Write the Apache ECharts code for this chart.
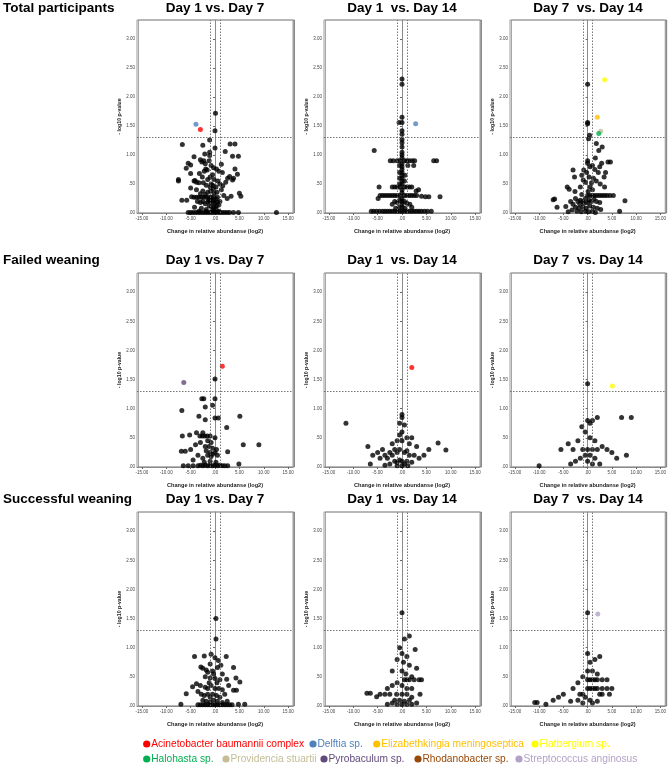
<!DOCTYPE html>
<html><head><meta charset="utf-8">
<script src="https://cdn.jsdelivr.net/npm/echarts@6/dist/echarts.min.js"></script>
<style>html,body{margin:0;padding:0;background:#fff}#c{width:669px;height:767px}</style>
</head><body><div id="c"></div>
<script>
// ---------------- data ----------------
const rowLabels = ['Total participants', 'Failed weaning', 'Successful weaning'];
const colTitles = ['Day 1 vs. Day 7', 'Day 1  vs. Day 14', 'Day 7  vs. Day 14'];
const xTicks = [-15, -10, -5, 0, 5, 10, 15];
const yTicks = [0, 0.5, 1, 1.5, 2, 2.5, 3];
const xName = 'Change in relative abundanse (log2)';
const yName = '- log10 p-value';
const species = ['Acinetobacter baumannii complex', 'Delftia sp.', 'Elizabethkingia meningoseptica', 'Flatbergium sp.',
  'Halohasta sp.', 'Providencia stuartii', 'Pyrobaculum sp.', 'Rhodanobacter sp.', 'Streptococcus anginosus'];
const speciesColors = ['#ff0000', '#4f81bd', '#ffc000', '#ffff00', '#00b050', '#c4bd97', '#604a7b', '#984807', '#b3a2c7'];
const foldThreshold = 1;       // |log2 change|
const pThreshold = 1.301;      // -log10(0.05)

// Total participants, Day 1 vs Day 7
const total_d1_d7 = [[0.1,1.72],[0,1.42],[-1.1,1.26],[-6.7,1.18],[3.1,1.19],[4.1,1.19],[-2.5,1.17],[0,1.12],[2.1,1.06],[-1.1,1.05],[-2.1,1.02],[-4.3,0.97],[3.6,0.98],[4.8,0.98],[-1.1,0.99],
[-5.5,0.86],[-5,0.83],[-5.9,0.77],[-5,0.68],[-4.3,0.55],[-3.8,0.53],[-4.1,0.56],[-7.5,0.55],[-7.5,0.58],[-3,0.92],[-2.7,0.88],[-2.3,0.9],[-2,0.85],[-1.9,0.76],[-1.6,0.74],[-2.2,0.72],[-1.2,0.9],[-0.8,0.82],[-0.3,0.78],[0.3,0.76],[0.8,0.72],[1.3,0.84],[1.5,0.7],[-0.5,0.66],[-1,0.62],[-1.5,0.58],[-2.6,0.62],[-3.2,0.68],[-0.2,0.58],[0.6,0.55],[1,0.5],[-0.8,0.5],[-1.8,0.48],[-2.4,0.52],[-3.3,0.52],[0.2,0.45],[-0.4,0.42],[1.6,0.47],[2.2,0.53],[2.6,0.6],[3,0.63],[4.1,0.76],[4.6,0.67],[3.8,0.6],[3.6,0.57],
[-6.8,0.22],[-5.8,0.22],[-4.8,0.28],[-4.3,0.27],[-3.8,0.27],[-3.3,0.27],[-2.8,0.27],[-2.3,0.27],[-1.8,0.27],[-1.3,0.27],[-0.8,0.27],[-0.3,0.27],[0.5,0.27],[-3.6,0.2],[-3,0.18],[-2.5,0.2],[-2,0.16],[-1.5,0.19],[-1,0.2],[-0.5,0.18],[0,0.17],[0.5,0.19],[1,0.2],[-1.2,0.12],[-0.7,0.11],[-0.2,0.1],[0.3,0.12],[0.8,0.14],[-2.8,0.08],[-1.8,0.06],[-0.6,0.05],[0.2,0.07],[-4.2,0.1],[-1.5,0.36],[-0.9,0.38],[-0.2,0.34],[0.4,0.36],[-2.5,0.38],[-3.8,0.4],[1.8,0.3],[2.5,0.25],[3.3,0.29],[5,0.34],[5.3,0.29],[1.3,0.4],[-5,0.43],[-1.3,0.23],[-0.8,0.24],[-0.3,0.22],[0.2,0.24],[-2,0.32],[-3,0.33],[-1,0.45],[-0.5,0.48],
[-5.5,0.01],[-5,0.01],[-4.5,0.01],[-4,0.01],[-3.5,0.01],[-3,0.01],[-2.5,0.01],[-2,0.01],[-1.5,0.01],[-1,0.01],[-0.5,0.01],[0,0.01],[0.5,0.01],[1,0.01],[1.5,0.01],[2,0.01],[2.5,0.01],[3,0.01],[3.8,0.01],[4.8,0.01],[12.6,0.01],[-3.3,0.03],[-1.8,0.03],[-0.3,0.03],[0.8,0.03]];
const total_d1_d7_marked = [['Delftia sp.',-3.9,1.53],['Acinetobacter baumannii complex',-3.0,1.44]];

// Total participants, Day 1 vs Day 14
const total_d1_d14 = [[0,2.31],[0,2.22],[0,1.65],[-0.6,1.56],[0,1.56],[0,1.42],[0,1.36],[0,1.27],[0,1.21],[0,1.14],[0,1.05],[0,1],[0,0.95],[0,0.85],[0,0.8],[0,0.75],[0,0.7],[0,0.65],[0,0.6],[0,0.55],[0,0.5],[0,0.4],[0,0.35],[0,0.25],[0,0.2],[0,0.15],[0,0.1],
[-5.7,1.08],[-2.4,0.9],[-1.8,0.9],[-1,0.9],[-0.5,0.9],[0.5,0.9],[1,0.9],[1.5,0.9],[2.1,0.9],[2.6,0.9],[6.5,0.9],[7.1,0.9],
[-0.5,0.82],[1.2,0.82],[2.4,0.82],[-0.5,0.7],[-0.5,0.6],[0.6,0.65],[-0.5,0.5],[0.5,0.55],
[-4.7,0.45],[-2,0.45],[-1.5,0.45],[-1,0.45],[-0.5,0.45],[0.5,0.45],[1,0.45],[1.5,0.45],[2,0.45],
[-4.9,0.25],[3.4,0.4],[2.9,0.38],
[-4.5,0.3],[-4,0.3],[-3.5,0.3],[-3,0.3],[-2.5,0.3],[-2,0.3],[-1.5,0.3],[-1,0.3],[-0.5,0.3],[0.5,0.3],[1,0.3],[1.5,0.3],[2,0.3],[2.5,0.3],[3,0.3],[4,0.29],[4.8,0.28],[5.5,0.28],[7.8,0.28],
[-1.5,0.2],[-1,0.18],[-0.5,0.22],[0.5,0.2],[1,0.17],[1.6,0.15],[-2,0.15],[2,0.1],[-1.3,0.08],[0.6,0.08],[-0.6,0.1],
[-6.3,0.03],[-5.8,0.03],[-5.2,0.03],[-4.6,0.03],[-4,0.03],[-3.5,0.03],[-3,0.03],[-2.5,0.03],[-2,0.03],[-1.5,0.03],[-1,0.03],[-0.5,0.03],[0,0.03],[0.5,0.03],[1,0.03],[1.5,0.03],[2,0.03],[2.5,0.03],[3,0.03],[3.5,0.03],[4,0.03],[4.6,0.03],[5.2,0.03],[6,0.03]];
const total_d1_d14_marked = [['Delftia sp.',2.8,1.54]];

// Total participants, Day 7 vs Day 14
const total_d7_d14 = [[0,2.22],[0,1.56],[0,1.54],[0.4,1.34],[0.2,1.28],[1.8,1.2],[3,1.14],[2.3,1.08],[1.6,0.95],[0,0.9],[0,0.86],[1,0.82],[2.9,0.86],[2.5,0.8],[4.2,0.88],[4.7,0.88],[-3,0.74],[-0.8,0.74],[-0.2,0.7],[-1.2,0.65],[-2.7,0.62],[3.7,0.7],[3.4,0.62],[1.8,0.55],[0.8,0.52],[-0.9,0.57],[-0.5,0.53],[-4.2,0.45],[-3.8,0.41],[-2.6,0.37],[0.1,0.37],[-1.2,0.32],[-6.8,0.24],[-7.1,0.23],[-6.3,0.1],[-4.5,0.11],[-4,0.02],[7.7,0.21],[6.6,0.03],
[0.5,0.8],[1.5,0.75],[2.2,0.7],[0.3,0.62],[1.2,0.6],[2.6,0.5],[3.5,0.45],
[0,0.3],[0.5,0.3],[1,0.3],[1.5,0.3],[2,0.3],[2.5,0.3],[3,0.3],[3.5,0.3],[4,0.3],[4.6,0.3],[5.3,0.3],
[-3.5,0.2],[-3,0.15],[-2.5,0.25],[-2,0.2],[-1.5,0.22],[-1,0.2],[-0.5,0.25],[0.3,0.22],[0.8,0.2],[1.3,0.24],[1.8,0.2],[2.5,0.18],[-2.5,0.1],[-1.8,0.08],[-1,0.1],[-0.3,0.08],[0.5,0.12],[1.2,0.1],[2,0.08],[2.7,0.06],[-3.2,0.05],[-2.2,0.03],[-1.3,0.02],[-0.5,0.03],[0.2,0.02],[1,0.03],[1.6,0.01],[-1.6,0.15],[-0.7,0.17],[0,0.18],[1,0.4],[-1.5,0.45],[0.5,0.45]];
const total_d7_d14_marked = [['Flatbergium sp.',3.5,2.30],['Elizabethkingia meningoseptica',2.0,1.65],['Providencia stuartii',2.7,1.41],['Halohasta sp.',2.3,1.37]];

// Failed weaning, Day 1 vs Day 7
const failed_d1_d7 = [[0,1.51],[-2.7,1.17],[-2.3,1.17],[0,1.17],[-0.5,1.06],[-2,1.03],[0,0.84],[0.7,0.84],[-6.8,0.97],[-3.3,0.87],[-2,0.81],[5.1,0.87],[2.4,0.68],[9,0.38],
[-3.1,0.53],[-2.6,0.53],[-2.1,0.53],[-1.6,0.53],[-1,0.53],[0,0.5],
[-6.7,0.53],[-5.2,0.55],[-3.8,0.59],[-2.5,0.59],[-1.5,0.45],[-0.8,0.42],[5.8,0.38],[-3,0.42],[-4,0.38],[-2,0.35],[-1.2,0.35],[-0.5,0.32],[0.3,0.3],[-6.9,0.27],[-6.1,0.27],[-5,0.3],[2.6,0.26],[-1.8,0.28],[-1,0.25],[-0.5,0.22],[0,0.25],[-1.5,0.2],[-0.8,0.18],[0.5,0.2],[-3.5,0.2],[-2.5,0.15],[-4.5,0.12],
[-6.5,0.02],[-5.5,0.02],[-4.5,0.02],[-3.5,0.02],[-3,0.03],[-2.5,0.02],[-2,0.03],[-1.5,0.02],[-1,0.03],[-0.5,0.02],[0,0.03],[0.5,0.02],[1,0.03],[1.5,0.02],[2,0.02],[2.6,0.02],[4.9,0.05],[-2.2,0.08],[-1,0.1],[0.2,0.08]];
const failed_d1_d7_marked = [['Acinetobacter baumannii complex',1.5,1.73],['Pyrobaculum sp.',-6.4,1.45]];

// Failed weaning, Day 1 vs Day 14
const failed_d1_d14 = [[-11.5,0.75],[0,0.9],[0,0.85],[-0.5,0.75],[0.5,0.72],[0,0.6],[-0.5,0.55],[1,0.5],[2,0.5],[-1,0.45],[0,0.45],[-2,0.4],[1.5,0.4],[3,0.35],[7.4,0.41],[9,0.29],[-7,0.35],[-6,0.2],[-5,0.25],[-4.5,0.15],[-4,0.3],[-3.5,0.2],[-3,0.15],[-2.5,0.25],[-2,0.2],[-1.5,0.3],[-1,0.25],[-0.5,0.3],[0.5,0.25],[1,0.28],[1.5,0.2],[2.5,0.2],[3.5,0.15],[4.5,0.2],[5.5,0.3],[-1.5,0.1],[-1,0.08],[-0.5,0.12],[0,0.1],[0.5,0.05],[1,0.1],[2,0.08],[-2.5,0.05],[-3.5,0.03],[-6.5,0.05],[0,0.02],[-1,0.02],[1.2,0.02]];
const failed_d1_d14_marked = [['Acinetobacter baumannii complex',2.0,1.71]];

// Failed weaning, Day 7 vs Day 14
const failed_d7_d14 = [[0,1.43],[0,0.8],[0.5,0.75],[1,0.8],[2,0.85],[7,0.85],[9,0.85],[-0.5,0.6],[0.5,0.5],[1.5,0.45],[-2,0.45],[-4,0.4],[-5.5,0.3],[-3,0.3],[-1,0.3],[0,0.3],[1,0.3],[2,0.3],[3,0.35],[4,0.3],[5,0.25],[-0.5,0.2],[0.5,0.2],[1.5,0.15],[-1.5,0.15],[-2.5,0.1],[-3.5,0.05],[0,0.1],[1,0.05],[2.5,0.05],[-10,0.02],[6,0.15],[8,0.2],[-1.2,0.69]];
const failed_d7_d14_marked = [['Flatbergium sp.',5.1,1.39]];

// Successful weaning, Day 1 vs Day 7
const success_d1_d7 = [[0.2,1.5],[0.2,1.15],[-0.8,0.89],[-2.2,0.86],[-4.2,0.85],[0,0.83],[2.3,0.85],[0.7,0.78],[-1,0.72],[-2.9,0.67],[-2.5,0.65],[3.8,0.66],[-0.5,0.6],[-1.5,0.58],[0.5,0.66],[1.5,0.55],[-2,0.5],[-1,0.48],[0,0.47],[1,0.45],[2.4,0.46],[4.3,0.48],[5.1,0.41],[-4.6,0.33],[-3.8,0.38],[-5.9,0.21],[-3,0.35],[-2,0.32],[-1.5,0.3],[-0.8,0.35],[0,0.3],[0.8,0.3],[1.5,0.28],[3.8,0.27],[4.4,0.27],[2.8,0.35],[-3.5,0.25],[-2.8,0.2],[-2.2,0.18],[-1.5,0.2],[-1,0.15],[-0.5,0.2],[0.3,0.18],[1,0.15],[2,0.2],[-2.5,0.1],[-1.8,0.08],[-1,0.07],[-0.3,0.1],[0.5,0.08],[1.5,0.06],[2.5,0.08],[-7,0.03],[6.1,0.03],[4.8,0.03],[-3.5,0.02],[-3,0.02],[-2.5,0.02],[-2,0.02],[-1.5,0.02],[-1,0.02],[-0.5,0.02],[0,0.02],[0.5,0.02],[1,0.02],[1.5,0.02],[2,0.02],[2.5,0.02],[3,0.02],[3.5,0.02],[-1.2,0.4],[0.4,0.4],[-0.3,0.55],[1.2,0.7],[-1.8,0.62]];
const success_d1_d7_marked = [];

// Successful weaning, Day 1 vs Day 14
const success_d1_d14 = [[0,1.6],[0.5,1.15],[1.5,1.2],[-0.5,1],[2.7,0.97],[0,0.9],[1,0.85],[-1,0.8],[0.3,0.75],[1.5,0.7],[3,0.65],[-2,0.6],[0,0.6],[0.8,0.55],[2,0.5],[4,0.45],[1,0.45],[0.5,0.45],[1.5,0.45],[2.5,0.45],[3.5,0.45],[-1,0.4],[-2,0.35],[-3,0.3],[0,0.35],[1,0.3],[2,0.3],[-7.2,0.22],[-6.5,0.22],[-5.2,0.16],[-4.5,0.2],[-3.5,0.2],[-2.5,0.2],[-1.1,0.2],[0,0.2],[1,0.2],[3.7,0.2],[2,0.15],[-1.5,0.1],[-0.5,0.1],[0.5,0.08],[1.5,0.1],[-2,0.05],[-1,0.03],[0,0.03],[1,0.03],[2,0.03],[-3,0.03],[3,0.05]];
const success_d1_d14_marked = [];

// Successful weaning, Day 7 vs Day 14
const success_d7_d14 = [[0,1.6],[-10.9,0.06],[-10.4,0.06],[-8.6,0.03],[-7.1,0.1],[-6,0.15],[-5,0.2],[-1.6,0.2],[-1,0.2],[2.5,0.2],[3,0.2],[4.5,0.2],[0,0.3],[0.5,0.3],[1,0.3],[1.5,0.3],[2,0.3],[3,0.3],[4,0.3],[5,0.3],[0,0.45],[0.5,0.45],[1,0.45],[1.5,0.45],[2,0.45],[3,0.45],[4,0.45],[0,0.6],[1,0.6],[2,0.55],[0.5,0.75],[1.5,0.8],[0,0.9],[2.5,0.85],[-1,0.5],[-2,0.4],[-3,0.3],[-0.5,0.15],[0.5,0.1],[1,0.05],[-1,0.05],[2,0.08],[-2,0.1],[-3.5,0.08]];
const success_d7_d14_marked = [['Streptococcus anginosus',2.1,1.58]];

// ---------------- layout / chart ----------------
const panels = [
  [total_d1_d7, total_d1_d7_marked], [total_d1_d14, total_d1_d14_marked], [total_d7_d14, total_d7_d14_marked],
  [failed_d1_d7, failed_d1_d7_marked], [failed_d1_d14, failed_d1_d14_marked], [failed_d7_d14, failed_d7_d14_marked],
  [success_d1_d7, success_d1_d7_marked], [success_d1_d14, success_d1_d14_marked], [success_d7_d14, success_d7_d14_marked]
];
const colLeft = [137, 324, 510], gridW = 156;
const rowTop = [20, 273, 512], rowH = [193, 194, 194];
const titleY = [8, 260, 499];
const legendRows = [[0, 1, 2, 3], [4, 5, 6, 7, 8]];
const legendX = [[146.7, 313, 376.7, 535], [146.7, 226, 324, 418, 519]];
const legendY = [744, 759];
const FONT = '"Liberation Sans", Arial, sans-serif';

function fmt(v) {
  let s = Math.abs(v).toFixed(2);
  if (Math.abs(v) < 1) s = s.replace(/^0/, '');
  return (v < 0 ? '-' : '') + s;
}

const grids = [], xAxes = [], yAxes = [], series = [], graphics = [];
panels.forEach((p, i) => {
  const r = Math.floor(i / 3), c = i % 3;
  grids.push({ left: colLeft[c], top: rowTop[r], width: gridW, height: rowH[r],
    show: true, borderColor: '#9a9a9a', borderWidth: 1, backgroundColor: '#fff',
    shadowColor: 'rgba(0,0,0,0.35)', shadowOffsetX: 1.5, shadowOffsetY: 0, shadowBlur: 0 });
  xAxes.push({ type: 'value', gridIndex: i, min: -16, max: 16,
    name: xName, nameLocation: 'middle', nameGap: 15,
    nameTextStyle: { fontFamily: FONT, fontSize: 5.6, fontWeight: 'bold', color: '#222' },
    axisLine: { show: true, lineStyle: { color: '#8a8a8a', width: 1 } },
    axisTick: { show: true, length: 2, customValues: xTicks, lineStyle: { color: '#666' } },
    axisLabel: { customValues: xTicks, formatter: fmt, fontFamily: FONT, fontSize: 4.5, color: '#444', margin: 3 },
    splitLine: { show: false } });
  yAxes.push({ type: 'value', gridIndex: i, min: 0, max: 3.33,
    name: yName, nameLocation: 'middle', nameGap: 11, nameRotate: 90,
    nameTextStyle: { fontFamily: FONT, fontSize: 5.2, fontWeight: 'bold', color: '#222' },
    axisLine: { show: true, lineStyle: { color: '#8a8a8a', width: 1 } },
    axisTick: { show: true, length: 2, customValues: yTicks, lineStyle: { color: '#666' } },
    axisLabel: { customValues: yTicks, formatter: fmt, fontFamily: FONT, fontSize: 4.5, color: '#444', margin: 2 },
    splitLine: { show: false } });
  series.push({ type: 'scatter', xAxisIndex: i, yAxisIndex: i, data: p[0], symbolSize: 5,
    itemStyle: { color: '#000' }, silent: true, z: 3,
    markLine: { silent: true, symbol: 'none', label: { show: false }, animation: false,
      lineStyle: { color: '#666', type: [1.5, 1.5], width: 0.9 },
      data: [{ xAxis: -foldThreshold }, { xAxis: foldThreshold }, { yAxis: pThreshold }] } });
  p[1].forEach(m => {
    series.push({ type: 'scatter', name: m[0], xAxisIndex: i, yAxisIndex: i, data: [[m[1], m[2]]], symbolSize: 5,
      itemStyle: { color: speciesColors[species.indexOf(m[0])] }, z: 4 });
  });
  graphics.push({ type: 'text', x: colLeft[c] + gridW / 2, y: titleY[r],
    style: { text: colTitles[c], font: 'bold 13.5px ' + FONT, fill: '#000', textAlign: 'center', textVerticalAlign: 'middle' } });
});
rowLabels.forEach((t, r) => {
  graphics.push({ type: 'text', x: 3, y: titleY[r],
    style: { text: t, font: 'bold 13.5px ' + FONT, fill: '#000', textAlign: 'left', textVerticalAlign: 'middle' } });
});
// legend (colored dot + colored name)
legendRows.forEach((row, ri) => {
  row.forEach((k, j) => {
    const cx = legendX[ri][j], cy = legendY[ri];
    graphics.push({ type: 'circle', shape: { cx: cx, cy: cy, r: 3.6 }, style: { fill: speciesColors[k] } });
    graphics.push({ type: 'text', x: cx + 4.5, y: cy,
      style: { text: species[k], font: '10.2px ' + FONT, fill: speciesColors[k], textAlign: 'left', textVerticalAlign: 'middle' } });
  });
});

const chart = echarts.init(document.getElementById('c'), null, { renderer: 'canvas' });
chart.setOption({
  animation: false,
  grid: grids, xAxis: xAxes, yAxis: yAxes, series: series, graphic: graphics
});
</script></body></html>
